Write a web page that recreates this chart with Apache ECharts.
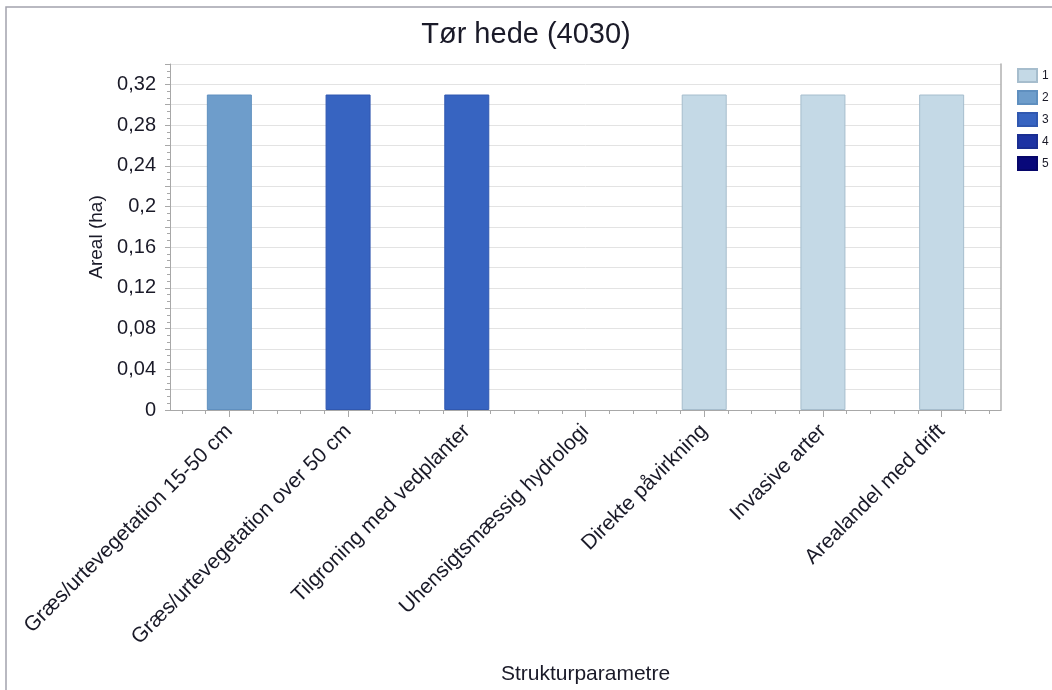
<!DOCTYPE html>
<html>
<head>
<meta charset="utf-8">
<script src="https://cdn.jsdelivr.net/npm/echarts@6/dist/echarts.min.js"></script>
<style>
html,body{margin:0;padding:0;background:#fff;}
#chart{width:1052px;height:690px;}
</style>
</head>
<body>
<div id="chart"></div>
<script>
const chartTitle = 'Tør hede (4030)';
const categories = [
  'Græs/urtevegetation 15-50 cm',
  'Græs/urtevegetation over 50 cm',
  'Tilgroning med vedplanter',
  'Uhensigtsmæssig hydrologi',
  'Direkte påvirkning',
  'Invasive arter',
  'Arealandel med drift'
];
const classNames = ['1', '2', '3', '4', '5'];
const class1 = [null, null, null, null, 0.31, 0.31, 0.31];
const class2 = [0.31, null, null, null, null, null, null];
const class3 = [null, 0.31, 0.31, null, null, null, null];
const class4 = [null, null, null, null, null, null, null];
const class5 = [null, null, null, null, null, null, null];
const classValues = [class1, class2, class3, class4, class5];
const yMin = 0, yMax = 0.34, yStep = 0.02;
const xAxisName = 'Strukturparametre';
const yAxisName = 'Areal (ha)';

const classColors = ['#c4d9e6', '#6e9dcb', '#3764c1', '#1d33a3', '#08087a'];
const classBorders = ['#a6bdcd', '#5f8fbf', '#3058b0', '#1a2e92', '#06066a'];
const FONT = '"Liberation Sans", Arial, sans-serif';
const TXT = '#1a1a28';

// 5 sub-slots per category, used only to place the small x ticks
const subSlots = [];
categories.forEach(() => { for (let k = 0; k < 5; k++) subSlots.push(''); });

const chart = echarts.init(document.getElementById('chart'), null, {renderer: 'canvas'});
chart.setOption({
  animation: false,
  backgroundColor: '#fff',
  title: {
    text: chartTitle, left: 'center', top: 15,
    textStyle: {fontFamily: FONT, fontSize: 29, fontWeight: 'normal', color: TXT}
  },
  graphic: [{
    type: 'polyline', silent: true,
    shape: {points: [[6, 690], [6, 7], [1052, 7]]},
    style: {stroke: '#a3a3ad', lineWidth: 1.5, fill: null}
  }],
  legend: {
    orient: 'vertical', left: 1017, top: 68, padding: 0,
    itemWidth: 19, itemHeight: 13, itemGap: 7,
    icon: 'rect',
    textStyle: {fontFamily: FONT, fontSize: 12, color: TXT, padding: [0, 0, 0, 0]},
    data: classNames
  },
  grid: {left: 170, right: 51, top: 64, bottom: 279, containLabel: false},
  xAxis: [{
    type: 'category', data: categories, position: 'bottom',
    axisLine: {show: true, lineStyle: {color: '#a8a8a8', width: 1}},
    axisTick: {show: true, alignWithLabel: true, length: 7, lineStyle: {color: '#a8a8a8'}},
    axisLabel: {rotate: 45, interval: 0, margin: 18, fontFamily: FONT, fontSize: 21, color: TXT},
    name: xAxisName, nameLocation: 'middle', nameGap: 254,
    nameTextStyle: {fontFamily: FONT, fontSize: 21, color: TXT},
    splitLine: {show: false}
  }, {
    type: 'category', data: subSlots, position: 'bottom',
    axisLine: {show: false},
    axisTick: {show: true, alignWithLabel: true, interval: 0, length: 4, lineStyle: {color: '#a8a8a8'}},
    axisLabel: {show: false},
    splitLine: {show: false}
  }],
  yAxis: [{
    type: 'value', min: yMin, max: yMax, interval: yStep,
    axisLine: {show: true, lineStyle: {color: '#a8a8a8', width: 1}},
    axisTick: {show: true, length: 5, lineStyle: {color: '#a8a8a8'}},
    minorTick: {show: true, splitNumber: 3, length: 3, lineStyle: {color: '#a8a8a8'}},
    splitLine: {show: true, lineStyle: {color: '#e3e3e3', width: 1}},
    axisLabel: {
      margin: 14, fontFamily: FONT, fontSize: 20, color: TXT,
      formatter: function (v) {
        const r = Math.round(v * 100);
        if (r % 4 !== 0 || r > 32) return '';
        return String(+(v.toFixed(2))).replace('.', ',');
      }
    },
    name: yAxisName, nameLocation: 'middle', nameGap: 63, nameRotate: 90,
    nameTextStyle: {fontFamily: FONT, fontSize: 19, color: TXT}
  }, {
    type: 'value', position: 'right', min: yMin, max: yMax, interval: yStep,
    axisLine: {show: true, lineStyle: {color: '#b0b0b0', width: 1.5}},
    axisTick: {show: false}, axisLabel: {show: false}, splitLine: {show: false}
  }],
  series: classNames.map((n, i) => ({
    name: n, type: 'bar', stack: 'total', xAxisIndex: 0, yAxisIndex: 0,
    barWidth: 45,
    data: classValues[i],
    itemStyle: {color: classColors[i], borderColor: classBorders[i], borderWidth: 1}
  }))
});
</script>
</body>
</html>
